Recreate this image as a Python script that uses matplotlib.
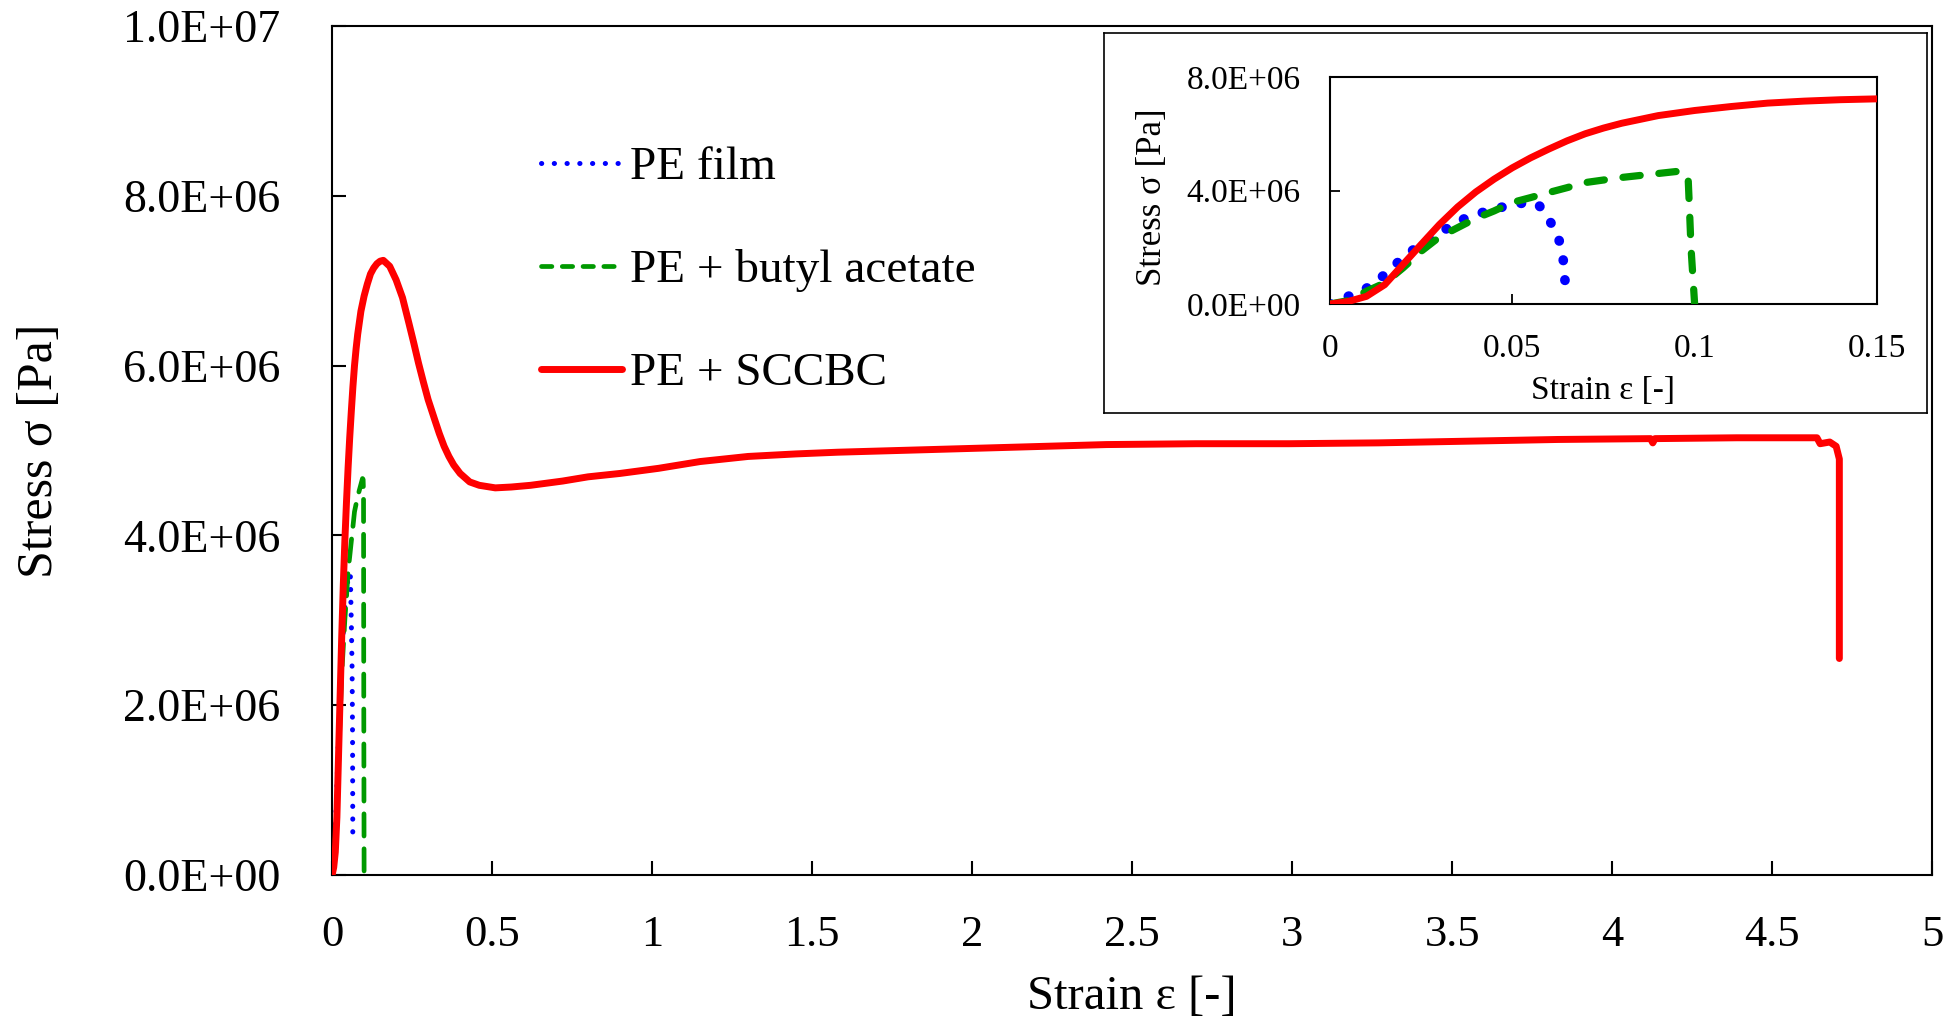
import matplotlib
matplotlib.use("Agg")
import matplotlib.pyplot as plt
from matplotlib.lines import Line2D
from matplotlib.ticker import FuncFormatter, FixedLocator

plt.rcParams["font.family"] = ["Liberation Serif", "DejaVu Serif"]

# --- data (stress values in units of 1e6 Pa) ---
film_strain = [0, 0.005, 0.0095, 0.0134, 0.0168, 0.0201, 0.0242, 0.0282, 0.0325,
               0.0369, 0.0417, 0.0467, 0.052, 0.057, 0.060, 0.0625, 0.0639, 0.0644, 0.0647]
film_stress = [0, 0.27, 0.51, 0.86, 1.25, 1.65, 2.04, 2.40, 2.69,
               3.01, 3.22, 3.40, 3.55, 3.54, 2.99, 2.43, 1.65, 0.90, 0.40]

butyl_strain = [0, 0.005, 0.01, 0.015, 0.02, 0.025, 0.03, 0.035, 0.04, 0.045, 0.05,
                0.055, 0.06, 0.065, 0.07, 0.08, 0.09, 0.095, 0.097, 0.0982, 0.0986,
                0.099, 0.0995, 0.1]
butyl_stress = [0, 0.12, 0.45, 0.74, 1.27, 1.86, 2.36, 2.69, 3.02, 3.28, 3.58,
                3.75, 3.93, 4.10, 4.28, 4.46, 4.60, 4.67, 4.66, 4.50, 3.30,
                2.00, 1.00, 0]

sccbc_strain = [0, 0.005, 0.01, 0.015, 0.02, 0.025, 0.03, 0.035, 0.04, 0.045, 0.05,
                0.055, 0.06, 0.065, 0.07, 0.075, 0.08, 0.09, 0.10, 0.11, 0.12, 0.13,
                0.14, 0.15, 0.16, 0.18, 0.20, 0.22, 0.24, 0.255, 0.27, 0.285, 0.30,
                0.32, 0.335, 0.35, 0.365, 0.38, 0.40, 0.43, 0.46, 0.51, 0.56, 0.62,
                0.72, 0.80, 0.90, 1.02, 1.15, 1.30, 1.45, 1.58, 1.86, 2.14, 2.42,
                2.70, 2.99, 3.27, 3.55, 3.83, 4.12, 4.127, 4.134, 4.39, 4.64,
                4.65, 4.68, 4.70, 4.71, 4.71]
sccbc_stress = [0, 0.09, 0.27, 0.68, 1.39, 2.10, 2.80, 3.42, 3.95, 4.40, 4.80,
                5.15, 5.46, 5.75, 6.00, 6.20, 6.37, 6.64, 6.82, 6.96, 7.08, 7.15,
                7.20, 7.23, 7.24, 7.17, 7.01, 6.80, 6.50, 6.27, 6.03, 5.81, 5.60,
                5.37, 5.20, 5.05, 4.93, 4.83, 4.73, 4.63, 4.59, 4.56, 4.57, 4.59,
                4.64, 4.69, 4.73, 4.79, 4.87, 4.93, 4.96, 4.98, 5.01, 5.04, 5.07,
                5.08, 5.08, 5.09, 5.11, 5.13, 5.14, 5.09, 5.14, 5.15, 5.15,
                5.08, 5.10, 5.05, 4.90, 2.55]

labels = ["PE film", "PE + butyl acetate", "PE + SCCBC"]
colors = ["#0000ff", "#009900", "#ff0000"]

main_xticks = [0, 0.5, 1, 1.5, 2, 2.5, 3, 3.5, 4, 4.5, 5]
main_yticks = [0, 2e6, 4e6, 6e6, 8e6, 1e7]
inset_xticks = [0, 0.05, 0.1, 0.15]
inset_yticks = [0, 4e6, 8e6]


def pa(vals):
    return [v * 1e6 for v in vals]


sci = FuncFormatter(lambda v, pos: f"{v:.1E}")
plain = FuncFormatter(lambda v, pos: f"{v:g}")

fig = plt.figure(figsize=(19.57, 10.24), dpi=100)

# ---------------- main axes ----------------
ax = fig.add_axes([0.1697, 0.1455, 0.8176, 0.8291])
ax.plot(film_strain, pa(film_stress), color=colors[0], lw=3.6,
        dashes=(0.05, 2.5), dash_capstyle="round", zorder=2)
ax.plot(butyl_strain, pa(butyl_stress), color=colors[1], lw=3.4,
        dashes=(4.7, 2.7), dash_capstyle="round", zorder=3)
ax.plot(sccbc_strain, pa(sccbc_stress), color=colors[2], lw=5,
        solid_capstyle="round", solid_joinstyle="round", zorder=4)

ax.set_xlim(0, 5)
ax.set_ylim(0, 1e7)
ax.xaxis.set_major_locator(FixedLocator(main_xticks))
ax.yaxis.set_major_locator(FixedLocator(main_yticks))
ax.xaxis.set_major_formatter(plain)
ax.yaxis.set_major_formatter(sci)
ax.tick_params(axis="both", direction="in", length=10, width=1.5)
ax.tick_params(axis="x", pad=29, labelsize=32)
ax.tick_params(axis="y", pad=37, labelsize=33)
for sp in ax.spines.values():
    sp.set_linewidth(1.5)

ax.set_xlabel("Strain ε [-]", fontsize=35)
ax.set_ylabel("Stress σ [Pa]", fontsize=36)
ax.xaxis.set_label_coords(0.5, -0.1437)
ax.xaxis.label.set_va("center")
ax.yaxis.set_label_coords(-0.183, 0.5)
ax.yaxis.label.set_va("center")

handles = [
    Line2D([], [], color=colors[0], lw=3.6, dashes=(0.05, 2.5), dash_capstyle="round"),
    Line2D([], [], color=colors[1], lw=3.4, dashes=(2.2, 2.2), dash_capstyle="round"),
    Line2D([], [], color=colors[2], lw=5, solid_capstyle="round"),
]
ax.legend(handles, labels, loc="upper left", bbox_to_anchor=(0.1304, 0.8585),
          frameon=False, fontsize=34, handlelength=1.72, handletextpad=0.18,
          labelspacing=1.27, borderpad=0, borderaxespad=0)

# ---------------- inset ----------------
frame = fig.add_axes([0.5641, 0.5967, 0.4205, 0.3711])
frame.set_xticks([])
frame.set_yticks([])
for sp in frame.spines.values():
    sp.set_linewidth(1.2)

ins = fig.add_axes([0.6796, 0.7031, 0.2795, 0.2217])
ins.plot(film_strain, pa(film_stress), color=colors[0], lw=7,
         dashes=(0.05, 2.0), dash_capstyle="round", zorder=2)
ins.plot(butyl_strain, pa(butyl_stress), color=colors[1], lw=5.2,
         dashes=(2.4, 2.6), dash_capstyle="round", zorder=3)
ins.plot(sccbc_strain, pa(sccbc_stress), color=colors[2], lw=5,
         solid_capstyle="round", zorder=4)
ins.set_xlim(0, 0.15)
ins.set_ylim(0, 8e6)
ins.xaxis.set_major_locator(FixedLocator(inset_xticks))
ins.yaxis.set_major_locator(FixedLocator(inset_yticks))
ins.xaxis.set_major_formatter(plain)
ins.yaxis.set_major_formatter(sci)
ins.tick_params(axis="both", direction="in", length=7, width=1.3, labelsize=24, pad=21)
for sp in ins.spines.values():
    sp.set_linewidth(1.5)
ins.set_xlabel("Strain ε [-]", fontsize=24)
ins.set_ylabel("Stress σ [Pa]", fontsize=25)
ins.xaxis.set_label_coords(0.5, -0.383)
ins.xaxis.label.set_va("center")
ins.yaxis.set_label_coords(-0.3236, 0.47)
ins.yaxis.label.set_va("center")

fig.savefig("out.png", dpi=100)
